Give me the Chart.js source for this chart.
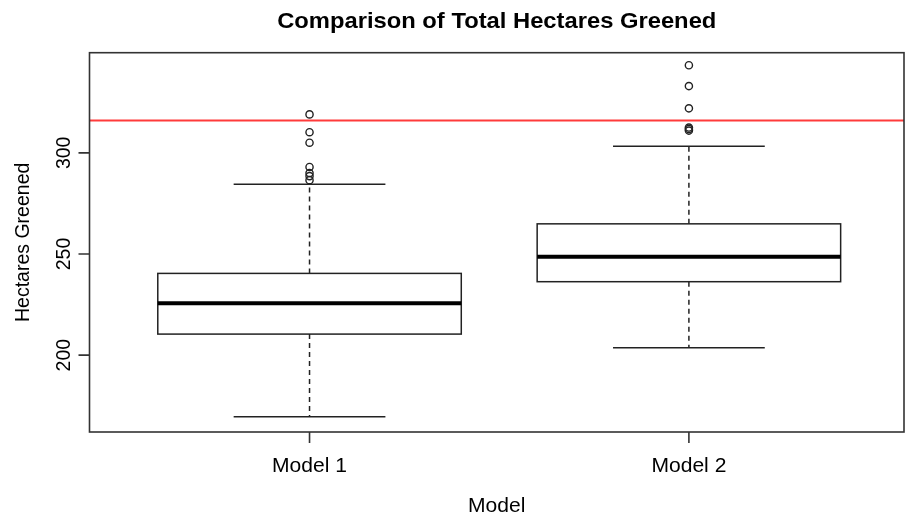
<!DOCTYPE html>
<html lang="en">
<head>
  <meta charset="UTF-8" />
  <title>Comparison of Total Hectares Greened</title>
  <script src="https://cdn.jsdelivr.net/npm/chart.js@4"></script>
  <style>
    body { margin: 0; background: #fff; }
    #wrap { width: 905px; height: 516px; }
  </style>
</head>
<body>
<div id="wrap"><canvas id="boxChart"></canvas></div>
<script>
// data
const models = ['Model 1', 'Model 2'];
const lowWhisker = [169.5, 203.6];
const q1 = [210.4, 236.3];
const median = [225.6, 248.6];
const q3 = [240.4, 264.9];
const highWhisker = [284.5, 303.3];
const outliers1 = [286.5, 288.5, 290, 293, 305, 310.2, 319];
const outliers2 = [311, 311.8, 312.5, 322, 333, 343.3];
const targetLine = 316;
const yTicks = [200, 250, 300];

const FONT = '"Liberation Sans", Arial, Helvetica, sans-serif';
const SX = 1.08; // the reference text is a little wider than it is tall

function text(ctx, str, x, y, size, weight, rotate) {
  ctx.save();
  ctx.translate(x, y);
  ctx.scale(SX, 1);
  if (rotate) ctx.rotate(-Math.PI / 2);
  ctx.font = weight + ' ' + size + 'px ' + FONT;
  ctx.textAlign = 'center';
  ctx.textBaseline = 'middle';
  ctx.fillStyle = '#000';
  ctx.fillText(str, 0, 0);
  ctx.restore();
}

const boxPlugin = {
  id: 'boxPlugin',
  beforeDatasetsDraw(chart) {
    const { ctx, chartArea: a, scales: { x, y } } = chart;
    ctx.save();
    models.forEach((m, i) => {
      const c = x.getPixelForValue(i + 1);
      const hw = x.getPixelForValue(i + 1.4) - c;
      const yQ1 = y.getPixelForValue(q1[i]), yQ3 = y.getPixelForValue(q3[i]);
      const yMed = y.getPixelForValue(median[i]);
      const yLo = y.getPixelForValue(lowWhisker[i]), yHi = y.getPixelForValue(highWhisker[i]);
      // whiskers
      ctx.strokeStyle = '#222';
      ctx.lineWidth = 1.5;
      ctx.setLineDash([5, 4]);
      ctx.beginPath();
      ctx.moveTo(c, yQ3); ctx.lineTo(c, yHi);
      ctx.moveTo(c, yQ1); ctx.lineTo(c, yLo);
      ctx.stroke();
      ctx.setLineDash([]);
      ctx.beginPath();
      ctx.moveTo(c - hw / 2, yHi); ctx.lineTo(c + hw / 2, yHi);
      ctx.moveTo(c - hw / 2, yLo); ctx.lineTo(c + hw / 2, yLo);
      ctx.stroke();
      // box
      ctx.strokeRect(c - hw, yQ3, hw * 2, yQ1 - yQ3);
      ctx.lineWidth = 4;
      ctx.strokeStyle = '#000';
      ctx.beginPath();
      ctx.moveTo(c - hw, yMed); ctx.lineTo(c + hw, yMed);
      ctx.stroke();
    });
    // red reference line
    const yr = y.getPixelForValue(targetLine);
    ctx.strokeStyle = '#ff3b3b';
    ctx.lineWidth = 2;
    ctx.beginPath();
    ctx.moveTo(a.left, yr); ctx.lineTo(a.right, yr);
    ctx.stroke();
    ctx.restore();
  },
  afterDraw(chart) {
    const { ctx, chartArea: a, scales: { x, y } } = chart;
    ctx.save();
    // frame
    ctx.strokeStyle = '#333';
    ctx.lineWidth = 1.6;
    ctx.strokeRect(a.left, a.top, a.right - a.left, a.bottom - a.top);
    // ticks and labels
    ctx.beginPath();
    x.ticks.forEach(t => {
      const px = x.getPixelForValue(t.value);
      ctx.moveTo(px, a.bottom); ctx.lineTo(px, a.bottom + 11);
    });
    y.ticks.forEach(t => {
      const py = y.getPixelForValue(t.value);
      ctx.moveTo(a.left, py); ctx.lineTo(a.left - 11, py);
    });
    ctx.stroke();
    x.ticks.forEach((t, i) => text(ctx, models[i], x.getPixelForValue(t.value), a.bottom + 35, 19.5, 'normal'));
    y.ticks.forEach(t => text(ctx, String(t.value), a.left - 25, y.getPixelForValue(t.value), 19.5, 'normal', true));
    const cx = (a.left + a.right) / 2;
    text(ctx, 'Model', cx, a.bottom + 75, 19.5, 'normal');
    text(ctx, 'Hectares Greened', 23, (a.top + a.bottom) / 2, 19.5, 'normal', true);
    text(ctx, 'Comparison of Total Hectares Greened', cx, 22, 22, 'bold');
    ctx.restore();
  }
};

const outlierPoints = [
  ...outliers1.map(v => ({ x: 1, y: v })),
  ...outliers2.map(v => ({ x: 2, y: v }))
];

const chart = new Chart(document.getElementById('boxChart'), {
  type: 'scatter',
  data: {
    datasets: [{
      label: 'outliers',
      data: outlierPoints,
      pointRadius: 3.6,
      pointBorderWidth: 1.4,
      pointBorderColor: '#222',
      pointBackgroundColor: 'rgba(0,0,0,0)'
    }]
  },
  options: {
    responsive: true,
    maintainAspectRatio: false,
    animation: false,
    layout: { autoPadding: false, padding: { top: 52.7, right: 1, left: 0, bottom: 0 } },
    plugins: { legend: { display: false }, tooltip: { enabled: false }, title: { display: false } },
    scales: {
      x: {
        type: 'linear', min: 0.42, max: 2.567,
        afterBuildTicks: s => { s.ticks = models.map((m, i) => ({ value: i + 1 })); },
        afterFit: s => { s.height = 84; },
        ticks: { display: false },
        grid: { display: false },
        border: { display: false }
      },
      y: {
        min: 162, max: 349.5,
        afterBuildTicks: s => { s.ticks = yTicks.map(v => ({ value: v })); },
        afterFit: s => { s.width = 89.5; },
        ticks: { display: false },
        grid: { display: false },
        border: { display: false }
      }
    }
  },
  plugins: [boxPlugin]
});
</script>
</body>
</html>
